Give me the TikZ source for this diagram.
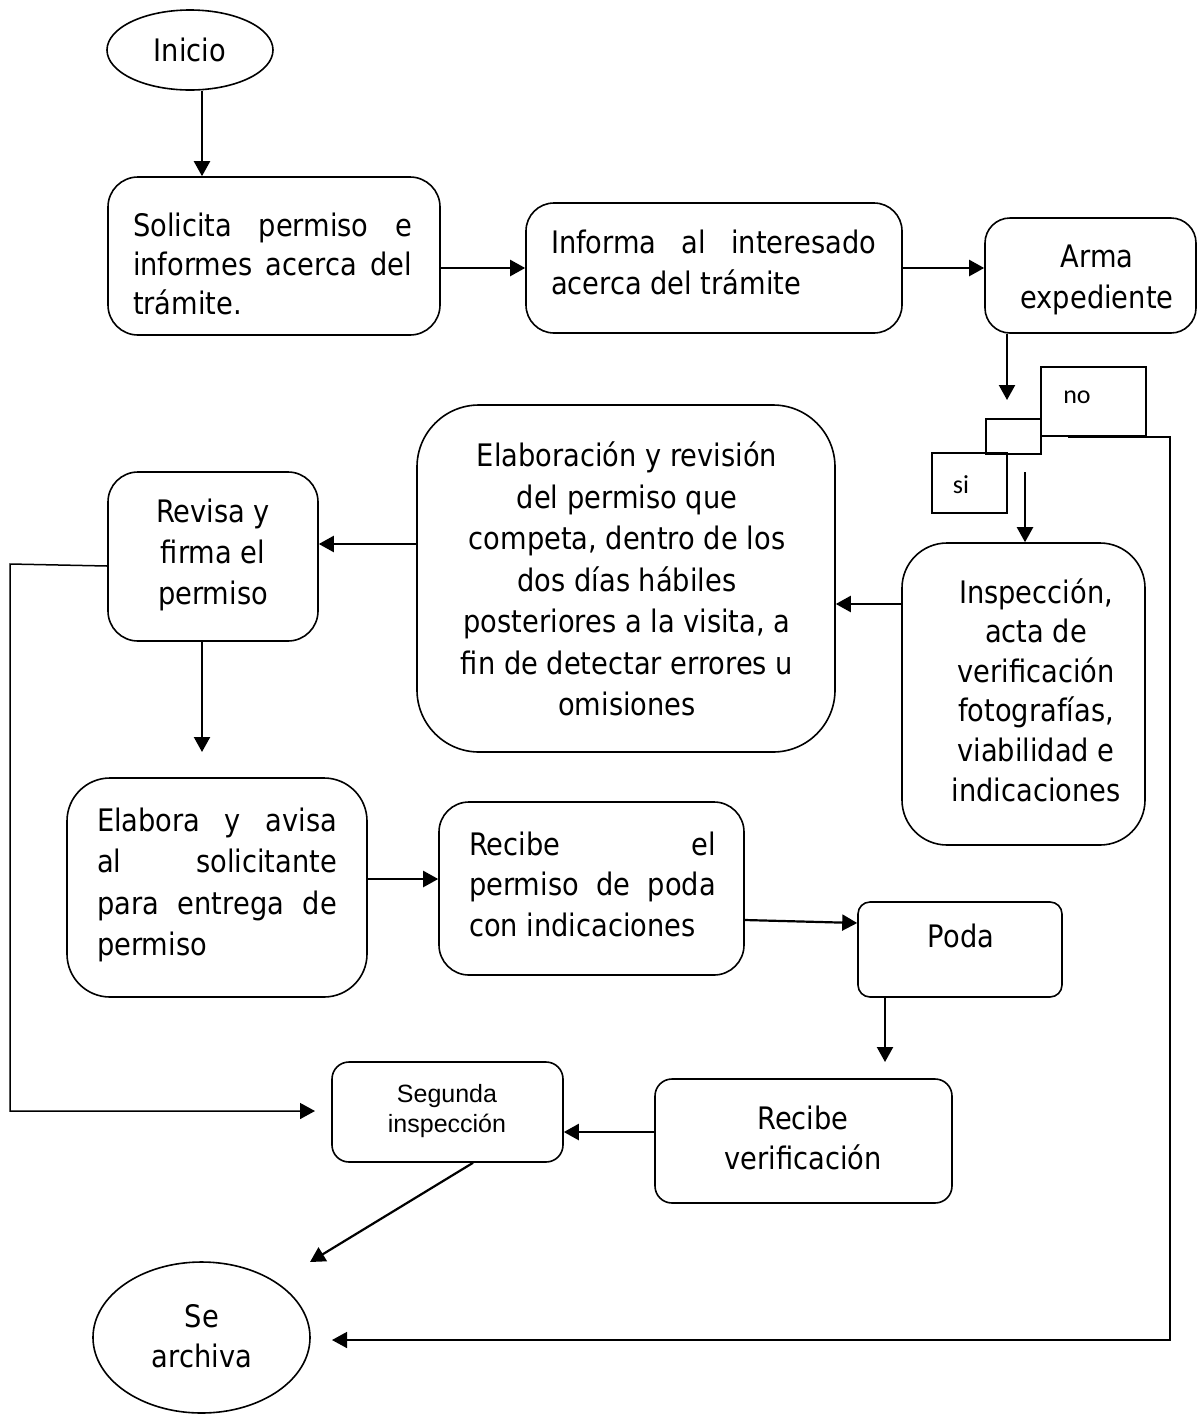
\documentclass[tikz,border=0pt]{standalone}
\usepackage{fontspec}
\setmainfont{DejaVu Sans}[FakeStretch=0.88]
\newfontfamily\arialf{Liberation Sans}
\newfontfamily\calf{Carlito}
\usetikzlibrary{arrows.meta,shapes.geometric}
\newcommand\myfs[1]{\fontsize{31}{#1}\selectfont}
\tikzset{
  box/.style={draw, line width=1.6pt, rounded corners=#1, inner sep=0pt},
  box/.default=30pt,
  sq/.style={draw, line width=1.3pt, inner sep=0pt},
  oval/.style={draw, ellipse, line width=1.6pt, inner sep=0pt},
  txt/.style={inner sep=0pt, align=left, font=\myfs{41}},
  ctxt/.style={inner sep=0pt, align=center, font=\myfs{41}},
  arr/.style={line width=2.2pt, -{Triangle[length=15pt,width=16pt]}},
  thinarr/.style={line width=1.5pt, -{Triangle[length=15pt,width=16pt]}},
}
\begin{document}
\begin{tikzpicture}[x=1pt,y=-1pt]
\path[use as bounding box] (0,0) rectangle (1197,1414);

% ---- shapes ----
\node[oval, minimum width=166pt, minimum height=80pt] (ini) at (190,50) {};
\node[box=30pt, minimum width=332pt, minimum height=158pt] (b1) at (274,256) {};
\node[box=28pt, minimum width=376pt, minimum height=130pt] (b2) at (714,268) {};
\node[box=25pt, minimum width=211pt, minimum height=115pt] (b3) at (1090.5,275.5) {};
\node[sq, minimum width=105pt, minimum height=69pt] (no) at (1093.5,401.5) {};
\node[sq, minimum width=55pt, minimum height=35pt] (mid) at (1013.5,436.5) {};
\node[sq, minimum width=75pt, minimum height=60pt] (si) at (969.5,483) {};
\node[box=45pt, minimum width=243pt, minimum height=302pt] (b4) at (1023.5,694) {};
\node[box=62pt, minimum width=418pt, minimum height=347pt] (b5) at (626,578.5) {};
\node[box=30pt, minimum width=210pt, minimum height=169pt] (b6) at (213,556.5) {};
\node[box=43pt, minimum width=300pt, minimum height=219pt] (b7) at (217,887.5) {};
\node[box=30pt, minimum width=305pt, minimum height=173pt] (b8) at (591.5,888.5) {};
\node[box=12pt, minimum width=204pt, minimum height=95pt] (b9) at (960,949.5) {};
\node[box=17pt, minimum width=297pt, minimum height=124pt] (b10) at (803.5,1141) {};
\node[box=17pt, minimum width=231pt, minimum height=100pt] (b11) at (447.5,1112) {};
\node[oval, minimum width=217pt, minimum height=151pt] (fin) at (201.5,1337.5) {};

% ---- texts ----
\node[ctxt] (tini) at (190,50) {Inicio};
\node[txt, font=\myfs{39}] (t1) at (272.5,264)
  {\makebox[279pt][s]{Solicita permiso e}\\\makebox[279pt][s]{informes acerca del}\\trámite.};
\node[txt] (t2) at (713.5,262)
  {\makebox[325pt][s]{Informa al interesado}\\acerca del trámite};
\node[ctxt] (t3) at (1097,280) {Arma\\expediente};
\node[inner sep=0pt, font=\calf\fontsize{26}{30}\selectfont] (tno) at (1077,397) {no};
\node[inner sep=0pt, font=\calf\fontsize{26}{30}\selectfont] (tsi) at (961,485) {si};
\node[ctxt, font=\myfs{39.6}] (t4) at (1036,690)
  {Inspección,\\acta de\\verificación\\fotografías,\\viabilidad e\\indicaciones};
\node[ctxt, font=\myfs{41.5}] (t5) at (627,579)
  {Elaboración y revisión\\del permiso que\\competa, dentro de los\\dos días hábiles\\posteriores a la visita, a\\fin de detectar errores u\\omisiones};
\node[ctxt] (t6) at (213,555) {Revisa y\\firma el\\permiso};
\node[txt, font=\myfs{41.5}] (t7) at (217,885)
  {\makebox[240pt][s]{Elabora y avisa}\\\makebox[240pt][s]{al solicitante}\\\makebox[240pt][s]{para entrega de}\\permiso};
\node[txt, font=\myfs{40.5}] (t8) at (592.5,884)
  {\makebox[247pt][s]{Recibe el}\\\makebox[247pt][s]{permiso de poda}\\con indicaciones};
\node[ctxt] (t9) at (961,936) {Poda};
\node[ctxt, font=\myfs{40}] (t10) at (803,1138) {Recibe\\verificación};
\node[inner sep=0pt, align=center, font=\arialf\fontsize{25}{30}\selectfont] (t11) at (447,1111) {Segunda\\inspección};
\node[ctxt, font=\myfs{40}] (t12) at (202,1336) {Se\\archiva};

% ---- coordinates ----
\coordinate (d1) at (1007,400);
\coordinate (d2) at (1025,472);
\coordinate (d3) at (202,752);
\coordinate (d4) at (885,1062);
\coordinate (d5) at (310,1262);
\coordinate (L1) at (10,564);
\coordinate (L2) at (10,1111);
\coordinate (d6) at (315,1111);
\coordinate (R0) at (1068,437);
\coordinate (R1) at (1170,437);
\coordinate (R2) at (1170,1340);
\coordinate (d7) at (332,1340);

% ---- connectors ----
\draw[arr] ([xshift=12pt]ini.south) -- ([xshift=12pt]ini.south |- b1.north);
\draw[arr] (b1.east |- b2.west) -- (b2.west);
\draw[arr] (b2.east) -- (b2.east -| b3.west);
\draw[arr] (b3.south -| d1) -- (d1);
\draw[arr] (d2) -- (d2 |- b4.north);
\draw[arr] ([yshift=90pt]b4.west) -- ([yshift=90pt]b4.west -| b5.east);
\draw[arr] ([yshift=34.5pt]b5.west) -- ([yshift=34.5pt]b5.west -| b6.east);
\draw[arr] (b6.south -| d3) -- (d3);
\draw[arr] ([yshift=8.5pt]b7.east) -- ([yshift=8.5pt]b7.east -| b8.west);
\draw[arr] ([yshift=-31.5pt]b8.east) -- ([yshift=26.5pt]b9.west);
\draw[arr] (b9.south -| d4) -- (d4);
\draw[arr] ([yshift=9pt]b10.west) -- ([yshift=9pt]b10.west -| b11.east);
\draw[arr] ([xshift=25.5pt]b11.south) -- (d5);
\draw[thinarr] ([yshift=-9.5pt]b6.west) -- (L1) -- (L2) -- (d6);
\draw[thinarr] (R0) -- (R1) -- (R2) -- (d7);
\end{tikzpicture}
\end{document}
